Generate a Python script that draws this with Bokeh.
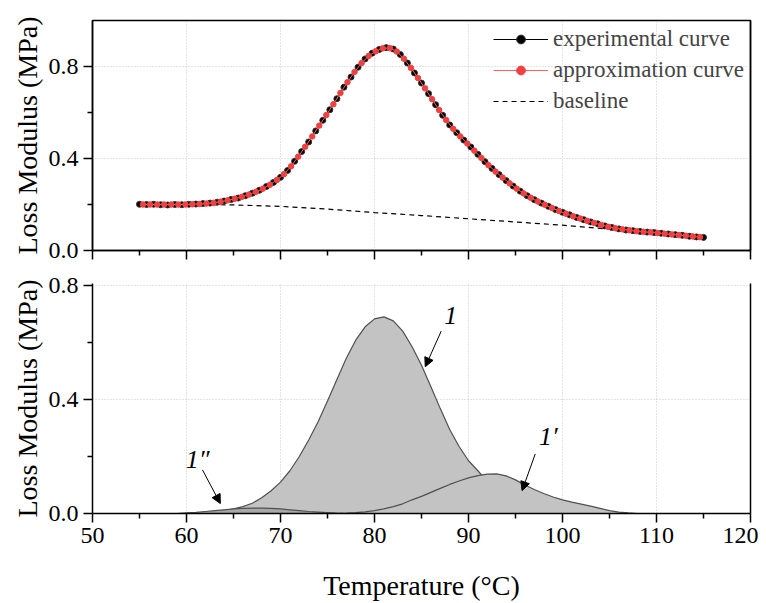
from bokeh.plotting import figure
from bokeh.models import (LinearAxis, FixedTicker, Legend, LegendItem, Arrow,
                          NormalHead, Label, Range1d, CustomJSTickFormatter,
                          PrintfTickFormatter)
from bokeh.layouts import column
from bokeh.embed import file_html
from bokeh.resources import INLINE

# ---------------- data ----------------
x_ticks = [50, 60, 70, 80, 90, 100, 110, 120]
x_minor = [55, 65, 75, 85, 95, 105, 115]
y_ticks = [0.0, 0.4, 0.8]
y_minor = [0.2, 0.6]

exp_T = [55.0, 55.75, 56.5, 57.25, 58.0, 58.75, 59.5, 60.25, 61.0, 61.75,
         62.5, 63.25, 64.0, 64.75, 65.5, 66.25, 67.0, 67.75, 68.5, 69.25,
         70.0, 70.75, 71.5, 72.25, 73.0, 73.75, 74.5, 75.25, 76.0, 76.75,
         77.5, 78.25, 79.0, 79.75, 80.5, 81.25, 82.0, 82.75, 83.5, 84.25,
         85.0, 85.75, 86.5, 87.25, 88.0, 88.75, 89.5, 90.25, 91.0, 91.75,
         92.5, 93.25, 94.0, 94.75, 95.5, 96.25, 97.0, 97.75, 98.5, 99.25,
         100.0, 100.75, 101.5, 102.25, 103.0, 103.75, 104.5, 105.25, 106.0, 106.75,
         107.5, 108.25, 109.0, 109.75, 110.5, 111.25, 112.0, 112.75, 113.5, 114.25,
         115.0]
exp_G = [0.201, 0.200, 0.201, 0.199, 0.198, 0.200, 0.199, 0.201, 0.202, 0.204,
         0.206, 0.210, 0.215, 0.222, 0.228, 0.238, 0.249, 0.262, 0.278, 0.296,
         0.318, 0.348, 0.388, 0.430, 0.472, 0.520, 0.566, 0.612, 0.660, 0.710,
         0.754, 0.797, 0.833, 0.858, 0.874, 0.882, 0.876, 0.852, 0.815, 0.772,
         0.728, 0.682, 0.634, 0.588, 0.546, 0.512, 0.480, 0.450, 0.418, 0.386,
         0.357, 0.330, 0.304, 0.280, 0.258, 0.238, 0.221, 0.206, 0.192, 0.178,
         0.166, 0.155, 0.144, 0.134, 0.124, 0.116, 0.107, 0.100, 0.094, 0.089,
         0.086, 0.083, 0.080, 0.078, 0.075, 0.072, 0.069, 0.066, 0.062, 0.059,
         0.057]

apx_T = [55.375, 56.125, 56.875, 57.625, 58.375, 59.125, 59.875, 60.625, 61.375, 62.125,
         62.875, 63.625, 64.375, 65.125, 65.875, 66.625, 67.375, 68.125, 68.875, 69.625,
         70.375, 71.125, 71.875, 72.625, 73.375, 74.125, 74.875, 75.625, 76.375, 77.125,
         77.875, 78.625, 79.375, 80.125, 80.875, 81.625, 82.375, 83.125, 83.875, 84.625,
         85.375, 86.125, 86.875, 87.625, 88.375, 89.125, 89.875, 90.625, 91.375, 92.125,
         92.875, 93.625, 94.375, 95.125, 95.875, 96.625, 97.375, 98.125, 98.875, 99.625,
         100.375, 101.125, 101.875, 102.625, 103.375, 104.125, 104.875, 105.625, 106.375, 107.125,
         107.875, 108.625, 109.375, 110.125, 110.875, 111.625, 112.375, 113.125, 113.875, 114.625]
apx_G = [0.200, 0.200, 0.200, 0.200, 0.200, 0.200, 0.200, 0.201, 0.202, 0.204,
         0.207, 0.212, 0.218, 0.225, 0.233, 0.243, 0.255, 0.269, 0.286, 0.307,
         0.332, 0.366, 0.408, 0.451, 0.496, 0.543, 0.589, 0.636, 0.685, 0.732,
         0.776, 0.815, 0.846, 0.866, 0.879, 0.880, 0.865, 0.834, 0.794, 0.750,
         0.705, 0.658, 0.611, 0.567, 0.529, 0.496, 0.465, 0.434, 0.402, 0.371,
         0.343, 0.317, 0.292, 0.269, 0.248, 0.229, 0.213, 0.199, 0.185, 0.172,
         0.160, 0.149, 0.139, 0.129, 0.120, 0.111, 0.103, 0.097, 0.092, 0.088,
         0.084, 0.081, 0.079, 0.076, 0.073, 0.070, 0.067, 0.064, 0.061, 0.058]

base_T = [55, 62, 65, 70, 75, 80, 85, 90, 95, 100, 105, 110, 115]
base_G = [0.200, 0.200, 0.198, 0.192, 0.180, 0.165, 0.152, 0.138, 0.124, 0.110, 0.093, 0.075, 0.056]

p1_T = [62, 63, 64, 65, 66, 67, 68, 69, 70, 71, 72, 73, 74, 75, 76, 77, 78, 79, 80,
        81, 82, 83, 84, 85, 86, 87, 88, 89, 90, 91, 92, 93, 94, 95, 96, 97, 98, 99]
p1_G = [0.002, 0.005, 0.010, 0.016, 0.024, 0.036, 0.055, 0.080, 0.110, 0.150, 0.200,
        0.258, 0.322, 0.395, 0.470, 0.545, 0.608, 0.655, 0.683, 0.690, 0.676, 0.640,
        0.585, 0.520, 0.445, 0.368, 0.295, 0.235, 0.185, 0.150, 0.112, 0.078, 0.050,
        0.030, 0.016, 0.007, 0.002, 0.000]

p1p_T = [76, 77, 78, 79, 80, 81, 82, 83, 84, 85, 86, 87, 88, 89, 90, 91, 92, 93, 94,
         95, 96, 97, 98, 99, 100, 101, 102, 103, 104, 105, 106, 107, 108]
p1p_G = [0.000, 0.001, 0.003, 0.006, 0.010, 0.016, 0.024, 0.034, 0.048, 0.060, 0.074,
         0.088, 0.102, 0.114, 0.125, 0.133, 0.138, 0.139, 0.132, 0.118, 0.100, 0.084,
         0.070, 0.058, 0.048, 0.040, 0.033, 0.026, 0.018, 0.010, 0.005, 0.002, 0.000]

p1pp_T = [59, 60, 61, 62, 63, 64, 65, 66, 67, 68, 69, 70, 71, 72, 73, 74, 75, 76, 77]
p1pp_G = [0.000, 0.002, 0.004, 0.007, 0.010, 0.013, 0.016, 0.018, 0.019, 0.019, 0.018,
          0.016, 0.013, 0.010, 0.007, 0.005, 0.003, 0.001, 0.000]

peak_labels = ["1", "1\u2032", "1\u2033"]
label_T = [88.1, 98.5, 61.2]
label_G = [0.696, 0.27, 0.19]
arrow_T0 = [87.1, 97.1, 61.7]
arrow_G0 = [0.64, 0.209, 0.153]
arrow_T1 = [85.4, 95.7, 63.6]
arrow_G1 = [0.515, 0.08, 0.035]

FONT = "Liberation Serif"
GRID = "#c8c8c8"
FILL = "#c3c3c3"


def style(p, show_x_labels):
    p.xaxis.ticker = FixedTicker(ticks=x_ticks, minor_ticks=x_minor)
    p.yaxis.ticker = FixedTicker(ticks=y_ticks, minor_ticks=y_minor)
    p.yaxis.formatter = PrintfTickFormatter(format="%.1f")
    for ax in p.xaxis + p.yaxis:
        ax.axis_line_color = "black"
        ax.axis_line_width = 1.5
        ax.major_tick_line_color = "black"
        ax.major_tick_line_width = 1.5
        ax.minor_tick_line_color = "black"
        ax.minor_tick_line_width = 1.5
        ax.major_tick_in = 0
        ax.major_tick_out = 9
        ax.minor_tick_in = 0
        ax.minor_tick_out = 5
        ax.major_label_text_font = FONT
        ax.major_label_text_font_size = "24px"
        ax.major_label_text_color = "black"
        ax.axis_label_text_font = FONT
        ax.axis_label_text_font_size = "28px"
        ax.axis_label_text_font_style = "normal"
        ax.axis_label_text_color = "black"
    p.yaxis.major_label_standoff = 5
    p.yaxis.axis_label_standoff = 3
    p.yaxis.axis_label = "Loss Modulus (MPa)"
    if show_x_labels:
        p.xaxis.major_label_standoff = 5
        p.xaxis.axis_label_standoff = 24
        p.xaxis.axis_label = "Temperature (\u00b0C)"
    else:
        p.xaxis.formatter = CustomJSTickFormatter(code="return '';")
        p.xaxis.major_label_standoff = 0
    p.xgrid.ticker = FixedTicker(ticks=x_ticks)
    p.ygrid.ticker = FixedTicker(ticks=y_ticks)
    for g in (p.xgrid, p.ygrid):
        g.grid_line_color = GRID
        g.grid_line_dash = "1 2"
        g.grid_line_width = 1
    right = LinearAxis(ticker=FixedTicker(ticks=[]),
                       formatter=CustomJSTickFormatter(code="return '';"),
                       major_tick_out=0, minor_tick_out=0, major_label_standoff=0,
                       axis_line_color="black", axis_line_width=1.5)
    p.add_layout(right, "right")


# ---------------- top panel ----------------
p1 = figure(width=758, height=270, x_range=Range1d(50, 120), y_range=Range1d(0, 1.0),
            output_backend="svg", toolbar_location=None,
            min_border_left=92, min_border_right=8, min_border_top=20, min_border_bottom=20,
            outline_line_color="black", outline_line_width=1.5, outline_line_alpha=1.0,
            background_fill_color="white", border_fill_color="white")
style(p1, False)

r_base = p1.line(base_T, base_G, line_color="black", line_width=1.2, line_dash="5 4")
r_exp_l = p1.line(exp_T, exp_G, line_color="black", line_width=1)
r_exp_s = p1.scatter(exp_T, exp_G, size=6, fill_color="black", line_color="#333333")
r_apx_l = p1.line(apx_T, apx_G, line_color="#ff6060", line_width=1)
r_apx_s = p1.scatter(apx_T, apx_G, size=5.5, fill_color="#f04040", line_color="#f04040")

legend = Legend(items=[
    LegendItem(label="experimental curve", renderers=[r_exp_l, r_exp_s]),
    LegendItem(label="approximation curve", renderers=[r_apx_l, r_apx_s]),
    LegendItem(label="baseline", renderers=[r_base]),
], location="top_right", glyph_width=55, glyph_height=22, label_height=22,
    label_text_font=FONT, label_text_font_size="23px", label_standoff=5,
    spacing=5, padding=4, margin=6, border_line_color=None,
    background_fill_alpha=0)
p1.add_layout(legend)

# ---------------- bottom panel ----------------
p2 = figure(width=758, height=333, x_range=Range1d(50, 120), y_range=Range1d(0, 0.807),
            output_backend="svg", toolbar_location=None,
            min_border_left=92, min_border_right=8, min_border_top=13, min_border_bottom=88,
            outline_line_color=None,
            background_fill_color="white", border_fill_color="white")
style(p2, True)

p2.varea(x=p1_T, y1=0, y2=p1_G, fill_color=FILL)
p2.line(p1_T, p1_G, line_color="#505050", line_width=1.2)
p2.varea(x=p1p_T, y1=0, y2=p1p_G, fill_color=FILL)
p2.line(p1p_T, p1p_G, line_color="#505050", line_width=1.2)
p2.varea(x=p1pp_T, y1=0, y2=p1pp_G, fill_color="#a8a8a8")
p2.line(p1pp_T, p1pp_G, line_color="#505050", line_width=1.2)

for i in range(3):
    p2.add_layout(Arrow(end=NormalHead(size=9, fill_color="black", line_color="black"),
                        x_start=arrow_T0[i], y_start=arrow_G0[i],
                        x_end=arrow_T1[i], y_end=arrow_G1[i],
                        line_color="black", line_width=1))
    p2.add_layout(Label(x=label_T[i], y=label_G[i], text=peak_labels[i],
                        text_font=FONT, text_font_style="italic", text_font_size="26px",
                        text_align="center", text_baseline="middle", text_color="black"))

layout = column(p1, p2, spacing=0)
open("out.html", "w").write(file_html(layout, INLINE))
